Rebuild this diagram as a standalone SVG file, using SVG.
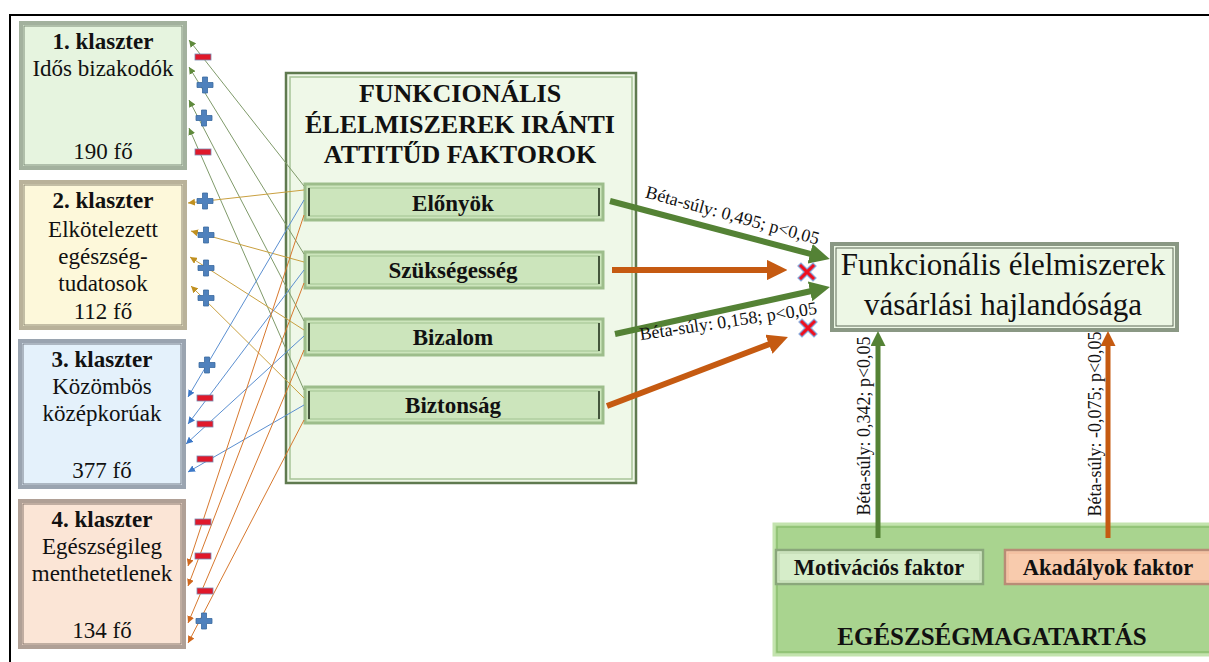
<svg xmlns="http://www.w3.org/2000/svg" xmlns:xlink="http://www.w3.org/1999/xlink" width="1209" height="662" viewBox="0 0 1209 662">
<style>
text{font-family:"Liberation Serif","Times New Roman",serif;fill:#111;}
.c{text-anchor:middle;font-size:23px;}
.s{text-anchor:middle;font-size:23px;font-weight:bold;}
.b{font-weight:bold;}
.lbl{font-size:18px;text-anchor:middle;}
.thin{fill:none;stroke-width:1;}
.cg{stroke:#7f9a6a;}
.cy{stroke:#c9a040;}
.cb{stroke:#5b8fd0;}
.co{stroke:#d7782e;}
.thick{fill:none;}
.sub{fill:#cce5bc;stroke:#9dbd8b;stroke-width:3;}
.subin{fill:none;stroke:#a9c899;stroke-width:1.2;}
.subdk{stroke:#44563c;stroke-width:2;}
</style>
<defs>
<marker id="mg" viewBox="0 0 10 10" refX="10" refY="5" markerWidth="7" markerHeight="7" markerUnits="userSpaceOnUse" orient="auto"><path d="M0,0L10,5L0,10z" fill="#5f8a3c"/></marker>
<marker id="my" viewBox="0 0 10 10" refX="10" refY="5" markerWidth="7" markerHeight="7" markerUnits="userSpaceOnUse" orient="auto"><path d="M0,0L10,5L0,10z" fill="#c09020"/></marker>
<marker id="mb" viewBox="0 0 10 10" refX="10" refY="5" markerWidth="7" markerHeight="7" markerUnits="userSpaceOnUse" orient="auto"><path d="M0,0L10,5L0,10z" fill="#3b78c8"/></marker>
<marker id="mo" viewBox="0 0 10 10" refX="10" refY="5" markerWidth="7" markerHeight="7" markerUnits="userSpaceOnUse" orient="auto"><path d="M0,0L10,5L0,10z" fill="#d0681e"/></marker>
<marker id="AG" viewBox="0 0 10 10" refX="3" refY="5" markerWidth="3.4" markerHeight="3.4" orient="auto"><path d="M0,0L10,5L0,10z" fill="#548235"/></marker>
<marker id="AO" viewBox="0 0 10 10" refX="3" refY="5" markerWidth="3.4" markerHeight="3.4" orient="auto"><path d="M0,0L10,5L0,10z" fill="#c55a11"/></marker>
<marker id="VG" viewBox="0 0 10 10" refX="3" refY="5" markerWidth="3" markerHeight="3" orient="auto"><path d="M0,0L10,5L0,10z" fill="#548235"/></marker>
<marker id="VO" viewBox="0 0 10 10" refX="3" refY="5" markerWidth="3" markerHeight="3" orient="auto"><path d="M0,0L10,5L0,10z" fill="#c55a11"/></marker>
<path id="plus" d="M-2.5,-8H2.5V-2.5H8V2.5H2.5V8H-2.5V2.5H-8V-2.5H-2.5Z" fill="#4f81bd" stroke="#3a6aa0" stroke-width="0.8"/>
<rect id="minus" x="-8" y="-3" width="16" height="6" fill="#e0182a" stroke="#7a8ab0" stroke-width="0.8"/>
<path id="xmark" d="M-9,-6L-6,-9L0,-3L6,-9L9,-6L3,0L9,6L6,9L0,3L-6,9L-9,6L-3,0Z" fill="#ee1020" stroke="#8aa6d8" stroke-width="1.2"/>
</defs>
<rect x="10" y="15" width="1300" height="700" fill="none" stroke="#000" stroke-width="2"/>

<g id="klaszter1">
<rect x="21" y="23" width="164" height="145" fill="#e6f4df" stroke="#a3b19e" stroke-width="4"/>
<rect x="24" y="26" width="158" height="139" fill="none" stroke="#7b8a77" stroke-width="1"/>
<text class="s" x="103" y="49">1. klaszter</text>
<text class="c" x="103" y="76">Idős bizakodók</text>
<text class="c" x="103" y="159">190 fő</text>
</g>
<g id="klaszter2">
<rect x="21" y="182" width="164" height="146" fill="#fdf8da" stroke="#b9b29a" stroke-width="4"/>
<rect x="24" y="185" width="158" height="140" fill="none" stroke="#8a8470" stroke-width="1"/>
<text class="s" x="103" y="208">2. klaszter</text>
<text class="c" x="103" y="237">Elkötelezett</text>
<text class="c" x="103" y="264">egészség-</text>
<text class="c" x="103" y="291">tudatosok</text>
<text class="c" x="103" y="319">112 fő</text>
</g>
<g id="klaszter3">
<rect x="20" y="341" width="164" height="146" fill="#e4f1fb" stroke="#9aa4b0" stroke-width="4"/>
<rect x="23" y="344" width="158" height="140" fill="none" stroke="#747d88" stroke-width="1"/>
<text class="s" x="102" y="367">3. klaszter</text>
<text class="c" x="102" y="394">Közömbös</text>
<text class="c" x="102" y="421">középkorúak</text>
<text class="c" x="102" y="478">377 fő</text>
</g>
<g id="klaszter4">
<rect x="20" y="501" width="164" height="146" fill="#fbe5d6" stroke="#b0a096" stroke-width="4"/>
<rect x="23" y="504" width="158" height="140" fill="none" stroke="#85766c" stroke-width="1"/>
<text class="s" x="102" y="527">4. klaszter</text>
<text class="c" x="102" y="554">Egészségileg</text>
<text class="c" x="102" y="581">menthetetlenek</text>
<text class="c" x="102" y="638">134 fő</text>
</g>

<g id="attitud">
<rect x="286" y="73" width="350" height="410" fill="#eff8e8" stroke="#5f7a4f" stroke-width="2.5"/>
<rect x="290" y="77" width="342" height="402" fill="none" stroke="#a8c498" stroke-width="1.5"/>
<text class="b" x="460" y="102" text-anchor="middle" font-size="26">FUNKCIONÁLIS</text>
<text class="b" x="460" y="133" text-anchor="middle" font-size="26">ÉLELMISZEREK IRÁNTI</text>
<text class="b" x="460" y="163" text-anchor="middle" font-size="26">ATTITŰD FAKTOROK</text>
</g>
<g id="elonyok">
<rect class="sub" x="305" y="184" width="298" height="36"/>
<rect class="subin" x="309" y="188" width="290" height="28"/>
<line class="subdk" x1="309" y1="188" x2="309" y2="216"/><line class="subdk" x1="599" y1="188" x2="599" y2="216"/>
<text class="s" x="453" y="211">Előnyök</text>
</g>
<g id="szuksegesseg">
<rect class="sub" x="305" y="252" width="298" height="36"/>
<rect class="subin" x="309" y="256" width="290" height="28"/>
<line class="subdk" x1="309" y1="256" x2="309" y2="284"/><line class="subdk" x1="599" y1="256" x2="599" y2="284"/>
<text class="s" x="453" y="278">Szükségesség</text>
</g>
<g id="bizalom">
<rect class="sub" x="305" y="319" width="298" height="36"/>
<rect class="subin" x="309" y="323" width="290" height="28"/>
<line class="subdk" x1="309" y1="323" x2="309" y2="351"/><line class="subdk" x1="599" y1="323" x2="599" y2="351"/>
<text class="s" x="453" y="345">Bizalom</text>
</g>
<g id="biztonsag">
<rect class="sub" x="305" y="387" width="298" height="36"/>
<rect class="subin" x="309" y="391" width="290" height="28"/>
<line class="subdk" x1="309" y1="391" x2="309" y2="419"/><line class="subdk" x1="599" y1="391" x2="599" y2="419"/>
<text class="s" x="453" y="413">Biztonság</text>
</g>

<g id="hajlandosag">
<rect x="832" y="244" width="345" height="86" fill="#edf7e5" stroke="#8a9884" stroke-width="4"/>
<rect x="836" y="248" width="337" height="78" fill="none" stroke="#5e6b58" stroke-width="1"/>
<text x="1003" y="275" text-anchor="middle" font-size="31">Funkcionális élelmiszerek</text>
<text x="1003" y="315" text-anchor="middle" font-size="31">vásárlási hajlandósága</text>
</g>

<g id="egeszsegmagatartas">
<rect x="774" y="524" width="440" height="131" fill="#a9d48f" stroke="#c3e3ae" stroke-width="3"/>
<rect x="777" y="527" width="434" height="125" fill="none" stroke="#86b96a" stroke-width="1.2"/>
<text class="b" x="992" y="645" text-anchor="middle" font-size="25">EGÉSZSÉGMAGATARTÁS</text>
</g>
<g id="motivacios">
<rect x="776" y="550" width="207" height="34" fill="#d6edc9" stroke="#8aa77b" stroke-width="2.5"/>
<rect x="779" y="553" width="201" height="28" fill="none" stroke="#bcd6ae" stroke-width="1"/>
<text class="b" x="879" y="575" text-anchor="middle" font-size="22.5">Motivációs faktor</text>
</g>
<g id="akadalyok">
<rect x="1005" y="550" width="210" height="34" fill="#f8cbad" stroke="#b98c76" stroke-width="2.5"/>
<rect x="1008" y="553" width="204" height="28" fill="none" stroke="#f0b898" stroke-width="1"/>
<text class="b" x="1108" y="575" text-anchor="middle" font-size="22.5">Akadályok faktor</text>
</g>

<g id="connectors">
<line class="thin cg" x1="304" y1="186" x2="189" y2="40" marker-end="url(#mg)"/>
<line class="thin cg" x1="304" y1="254" x2="189" y2="67" marker-end="url(#mg)"/>
<line class="thin cg" x1="304" y1="321" x2="189" y2="100" marker-end="url(#mg)"/>
<line class="thin cg" x1="304" y1="390" x2="189" y2="128" marker-end="url(#mg)"/>
<line class="thin cy" x1="304" y1="190" x2="188" y2="203" marker-end="url(#my)"/>
<line class="thin cy" x1="304" y1="262" x2="191" y2="231" marker-end="url(#my)"/>
<line class="thin cy" x1="304" y1="330" x2="190" y2="257" marker-end="url(#my)"/>
<line class="thin cy" x1="304" y1="398" x2="191" y2="286" marker-end="url(#my)"/>
<line class="thin cb" x1="304" y1="200" x2="188" y2="397" marker-end="url(#mb)"/>
<line class="thin cb" x1="304" y1="270" x2="188" y2="424" marker-end="url(#mb)"/>
<line class="thin cb" x1="304" y1="336" x2="186" y2="444" marker-end="url(#mb)"/>
<line class="thin cb" x1="304" y1="405" x2="188" y2="472" marker-end="url(#mb)"/>
<line class="thin co" x1="304" y1="215" x2="188" y2="566" marker-end="url(#mo)"/>
<line class="thin co" x1="304" y1="283" x2="188" y2="586" marker-end="url(#mo)"/>
<line class="thin co" x1="304" y1="350" x2="188" y2="623" marker-end="url(#mo)"/>
<line class="thin co" x1="304" y1="420" x2="188" y2="643" marker-end="url(#mo)"/>

<line class="thick" x1="610" y1="201" x2="816" y2="255.4" stroke="#548235" stroke-width="6" marker-end="url(#AG)"/>
<line class="thick" x1="612" y1="270" x2="773" y2="270" stroke="#c55a11" stroke-width="6" marker-end="url(#AO)"/>
<line class="thick" x1="615" y1="334" x2="816" y2="290" stroke="#548235" stroke-width="6" marker-end="url(#AG)"/>
<line class="thick" x1="607" y1="406" x2="774.6" y2="342.1" stroke="#c55a11" stroke-width="6" marker-end="url(#AO)"/>
<line class="thick" x1="878" y1="538" x2="878" y2="341.5" stroke="#548235" stroke-width="5" marker-end="url(#VG)"/>
<line class="thick" x1="1108" y1="538" x2="1108" y2="341.5" stroke="#c55a11" stroke-width="5" marker-end="url(#VO)"/>

<text class="lbl" transform="translate(731,221) rotate(15.3)">Béta-súly: 0,495; p&lt;0,05</text>
<text class="lbl" transform="translate(729,327) rotate(-8.5)">Béta-súly: 0,158; p&lt;0,05</text>
<text class="lbl" transform="translate(870,426) rotate(-90)">Béta-súly: 0,342; p&lt;0,05</text>
<text class="lbl" transform="translate(1101,424) rotate(-90)">Béta-súly: -0,075; p&lt;0,05</text>

<use href="#xmark" x="807" y="272"/>
<use href="#xmark" x="808" y="328"/>

<use href="#minus" x="203" y="57"/>
<use href="#plus" x="205" y="85"/>
<use href="#plus" x="204" y="118"/>
<use href="#minus" x="203" y="152"/>
<use href="#plus" x="205" y="201"/>
<use href="#plus" x="206" y="235"/>
<use href="#plus" x="206" y="268"/>
<use href="#plus" x="206" y="298"/>
<use href="#plus" x="207" y="365"/>
<use href="#minus" x="205" y="398"/>
<use href="#minus" x="205" y="424"/>
<use href="#minus" x="205" y="459"/>
<use href="#minus" x="203" y="522"/>
<use href="#minus" x="203" y="556"/>
<use href="#minus" x="205" y="591"/>
<use href="#plus" x="204" y="621"/>
</g>
</svg>
